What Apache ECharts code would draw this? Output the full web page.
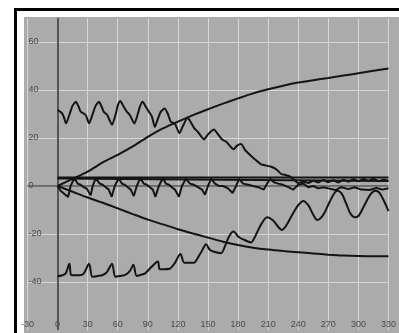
<!DOCTYPE html>
<html>
<head>
<meta charset="utf-8">
<script src="https://cdn.jsdelivr.net/npm/echarts@6/dist/echarts.min.js"></script>
<style>
  html, body { margin: 0; padding: 0; background: #fff; }
  #chart { width: 399px; height: 333px; }
</style>
</head>
<body>
<div id="chart"></div>
<script>
// tick labels
const xTicks = [-30, 0, 30, 60, 90, 120, 150, 180, 210, 240, 270, 300, 330];
const yTicks = [-40, -20, 0, 20, 40, 60];

// smooth curve rising from the origin
const risingCurve = [[0, 0], [15, 3], [30, 6], [45, 9.8], [60, 13], [75, 16.5], [90, 20.5], [105, 24],
  [120, 26.8], [135, 29.5], [150, 32], [165, 34.3], [180, 36.5], [195, 38.6], [210, 40.3], [225, 41.8],
  [240, 43.1], [255, 44.1], [270, 45], [285, 46], [300, 47], [315, 48], [330, 49]];

// smooth curve falling from the origin
const fallingCurve = [[0, 0], [15, -2.4], [30, -4.8], [45, -7], [60, -9.3], [75, -11.7], [90, -14], [105, -16],
  [120, -18], [135, -19.8], [150, -21.5], [165, -23.2], [180, -24.6], [195, -25.7], [210, -26.5], [225, -27.1],
  [240, -27.6], [255, -28.1], [270, -28.6], [285, -29], [300, -29.2], [315, -29.3], [330, -29.3]];

// two flat lines just above zero
const flatA = [[0, 3.5], [330, 3.5]];
const flatB = [[0, 3.1], [330, 2.1]];

// upper oscillation that decays towards zero
const upperWave = [[0, 31.7], [4, 30.5], [6, 29], [8.5, 26.1], [12, 30], [15, 33.5], [18.3, 35.1], [21, 33],
  [23, 31], [28, 29.6], [31.4, 26.1], [35, 30], [38, 33.5], [41.3, 35.1], [44, 33], [46, 31], [49.5, 29.6],
  [54.3, 25.5], [58, 30], [60, 33.5], [62.5, 35.4], [66, 33], [69, 31], [72, 29.6], [76.6, 26], [80, 30],
  [82, 33], [84.8, 35.1], [88, 33], [91, 31], [94, 29], [97, 24.6], [100, 28], [103, 31], [106.8, 32.3],
  [110, 30], [113, 26.7], [117, 26], [121.5, 22], [125, 25], [129.7, 28.5], [133, 26.5], [136, 24.2],
  [140, 22.5], [146, 19.4], [150, 21.5], [155.9, 23.5], [160, 21.5], [164, 19.4], [168, 18.5], [175.5, 15.3],
  [179, 16.8], [183, 17.5], [187, 15], [192, 12.9], [197, 11], [203, 9], [208, 8.5], [213, 8], [218, 7],
  [223, 5], [228, 4.5], [232, 3.9], [236, 2.5], [240, 1.2], [245, 1.8], [250, 1.2], [255, 2.2], [260, 1.5],
  [265, 2.5], [270, 1.6], [275, 2.4], [280, 1.5], [285, 2.6], [290, 1.8], [295, 2.8], [300, 2], [305, 2.9],
  [310, 2.2], [315, 3], [320, 2.1], [325, 2.6], [330, 2.2]];

// oscillation around zero
const zeroWave = [[0, 0], [3, -2], [6, -3], [10.5, -4.6], [13, 0], [16.7, 3.3], [20, 1], [23, 0.5], [26, -0.5],
  [29, -1], [33, -3.9], [35, 0], [38, 3.3], [42, 1], [45, 0.5], [48, -0.5], [51, -1.5], [54, -4.5], [57, 0],
  [61, 3.3], [64, 1], [67, 0.5], [70, -0.5], [73, -1.5], [76, -4.2], [79, 0], [82.4, 3.3], [86, 1], [89, 0.5],
  [92, -0.5], [95, -1.5], [97.6, -4.5], [101, 0], [105, 3.3], [108, 1], [111, 0.5], [114, -0.5], [117, -1.5],
  [121, -4.5], [124, 0], [128, 3], [132, 1], [136, 0.5], [140, -0.5], [144, -1.5], [147, -3.6], [150, 0],
  [153, 3], [157, 1], [161, 0], [165, 0], [170, -1], [174.5, -2.9], [178, 0], [181, 3], [185, 1], [190, 0.5],
  [195, 0], [200, -0.5], [205.6, -1.5], [209, 1], [212, 3], [216, 1.5], [220, 1], [225, 0.5], [230, -0.5],
  [235, -1.5], [240, 0.5], [245, 1], [250, -0.5], [255, 0], [260, -1], [265, -0.5], [270, -1], [277, -1.7],
  [283, -0.5], [290, -1.3], [296, -0.5], [303, -1.5], [311, -1.7], [318, -0.8], [324, -1.5], [330, -0.9]];

// lower sawtooth that grows into big swings
const lowerWave = [[0, -37.6], [4, -37.3], [8, -36.5], [11.8, -32.4], [13.4, -37], [17, -37.2], [21.6, -37.2],
  [26, -36.5], [31.4, -32.4], [34.7, -37.8], [40, -37.5], [44.5, -37.2], [49, -36], [54.3, -32.4],
  [57.6, -37.8], [62, -37.5], [67.5, -37], [72, -35.5], [75.6, -32.8], [78.9, -37.5], [83, -37], [87, -36.5],
  [93, -34], [100, -31.5], [101.8, -34.7], [106, -34.7], [111.6, -34.5], [117, -32], [122.5, -28.3],
  [126.4, -32], [133, -32], [136, -32], [139, -30.5], [144, -27], [148, -24.3], [152, -26.7], [157, -27.5],
  [163, -28], [167, -25], [171, -21], [175.5, -19], [180, -21], [184, -22], [193, -23.5], [197, -21],
  [203, -16], [209, -13], [215, -14.4], [220, -17], [223.5, -18.3], [228, -16.5], [234, -12], [240, -8],
  [245, -6.2], [250, -8], [255, -12], [259, -14.2], [265, -12], [272, -6], [278.7, -2], [283, -3],
  [288, -7.5], [292, -11.5], [296, -13], [300, -12.5], [306, -8], [312, -3.5], [317, -2], [321, -2.8],
  [325, -5.8], [328, -8.5], [330, -10.5]];

const chart = echarts.init(document.getElementById('chart'), null, { renderer: 'canvas' });

const lineColor = '#141414';
function curve(data, smooth) {
  return {
    type: 'line',
    data: data,
    showSymbol: false,
    silent: true,
    smooth: smooth || false,
    lineStyle: { color: lineColor, width: 2 },
    z: 3
  };
}

const labelStyle = { color: '#4a4a4a', fontSize: 9, fontFamily: 'Liberation Sans, Arial, sans-serif' };

const option = {
  animation: false,
  backgroundColor: '#fff',
  graphic: [
    { type: 'rect', z: -10, shape: { x: 24, y: 17, width: 375, height: 316 }, style: { fill: '#ababab' } },
    { type: 'rect', z: -10, shape: { x: 14, y: 8, width: 385, height: 3 }, style: { fill: '#000' } },
    { type: 'rect', z: -10, shape: { x: 14, y: 8, width: 3, height: 325 }, style: { fill: '#000' } }
  ],
  grid: { left: 27.5, right: 5, top: 18, bottom: 3 },
  xAxis: {
    type: 'value',
    min: xTicks[0],
    max: xTicks[xTicks.length - 1],
    interval: 30,
    axisLine: { show: false },
    axisTick: { show: false },
    axisLabel: Object.assign({ inside: true, margin: 1, showMaxLabel: true, showMinLabel: true }, labelStyle),
    splitLine: { show: true, lineStyle: { color: '#d6d6d6', width: 1 } }
  },
  yAxis: {
    type: 'value',
    min: -60,
    max: 70,
    interval: 20,
    axisLine: { show: false },
    axisTick: { show: false },
    axisLabel: Object.assign({
      inside: true,
      margin: 1,
      formatter: v => (yTicks.indexOf(v) >= 0 ? String(v) : '')
    }, labelStyle),
    splitLine: { show: true, showMinLine: false, showMaxLine: false, lineStyle: { color: '#d6d6d6', width: 1 } }
  },
  series: [
    Object.assign(curve(risingCurve, 0.3), {
      markLine: {
        silent: true,
        symbol: 'none',
        label: { show: false },
        animation: false,
        z: 1,
        data: [
          { yAxis: 0, lineStyle: { color: '#555', width: 1.5, type: 'solid' } },
          { xAxis: 0, lineStyle: { color: '#555', width: 2, type: 'solid' } }
        ]
      }
    }),
    curve(fallingCurve, 0.3),
    curve(flatA),
    curve(flatB),
    curve(upperWave, 0.2),
    curve(zeroWave),
    curve(lowerWave, 0.3)
  ]
};

chart.setOption(option);
</script>
</body>
</html>
